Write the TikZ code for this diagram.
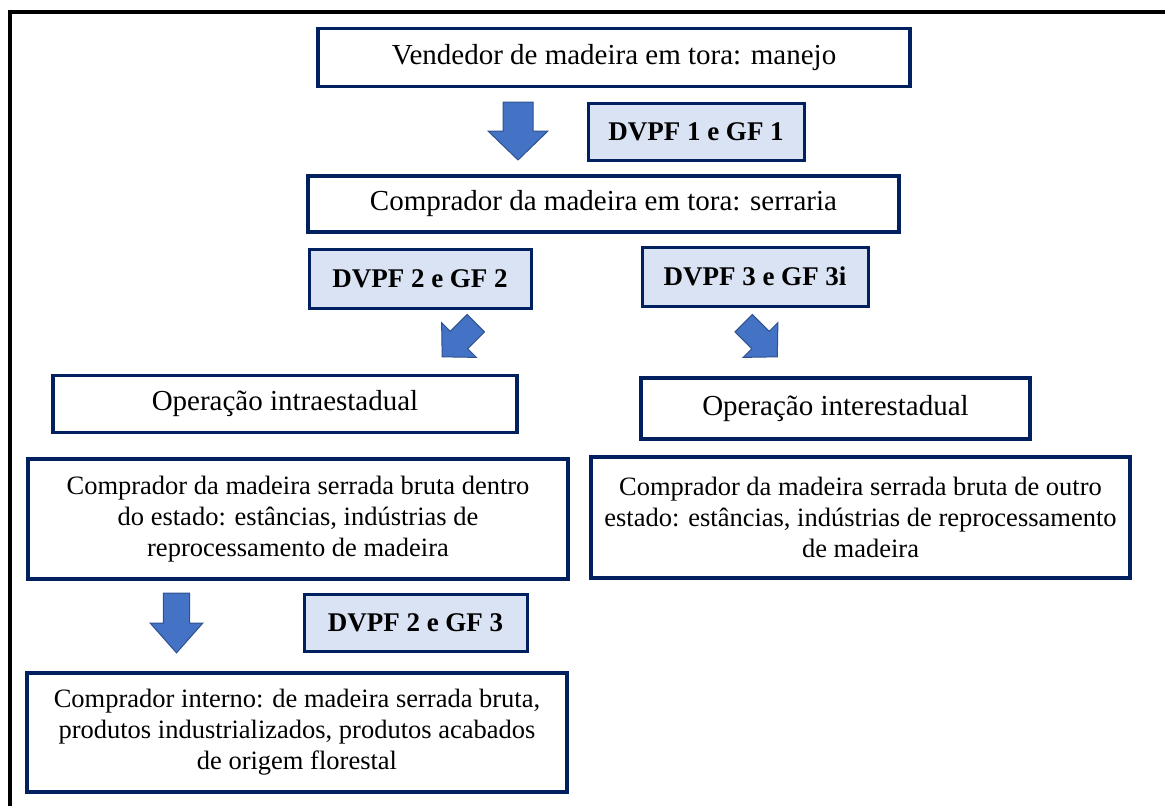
\documentclass[tikz,border=0pt]{standalone}
\usepackage{fontspec}
\setmainfont{LiberationSerif}[Extension=.ttf, UprightFont=*-Regular, BoldFont=*-Bold]
\usetikzlibrary{positioning}
\definecolor{flNavy}{HTML}{002060}
\definecolor{flTag}{HTML}{DAE3F3}
\definecolor{flArrow}{HTML}{4472C4}
\definecolor{flArrowLine}{HTML}{2F528F}
\tikzset{
  flnode/.style={
    draw=flNavy, line width=3.5pt, fill=white, align=center, inner sep=0pt,
    font=\fontsize{29}{31}\selectfont
  },
  flbox/.style={flnode},
  fltext/.style={flnode, font=\fontsize{26.5}{31}\selectfont},
  fltag/.style={flnode, fill=flTag, line width=3pt, font=\fontsize{27}{30}\selectfont\bfseries},
  frame/.style={line width=3.5pt, black},
  blockarrow/.pic={
    \filldraw[fill=flArrow, draw=flArrowLine, line width=1pt]
      (-15,-29) -- (15,-29) -- (15,0) -- (30,0) -- (0,29) -- (-30,0) -- (-15,0) -- cycle;
  }
}
\begin{document}
\begin{tikzpicture}[x=1pt, y=-1pt]
  \useasboundingbox (0,0) rectangle (1165,806);
  \draw[frame] (10,830) -- (10,12) -- (1190,12);

  % main chain
  \node[flbox, minimum width=592pt, minimum height=58pt] (vend) at (614,57.5) {Vendedor de madeira em tora: manejo};
  \node[fltag, minimum width=216pt, minimum height=57pt] (tag1) at (696,131.5) {DVPF 1 e GF 1};
  \node[flbox, minimum width=591pt, minimum height=56pt] (serr) at (603.5,204) {Comprador da madeira em tora: serraria};
  \pic (a1) at (518,131) {blockarrow};

  % two branches
  \node[fltag, minimum width=222pt, minimum height=59pt] (tag2) at (420,278.5) {DVPF 2 e GF 2};
  \node[fltag, minimum width=226pt, minimum height=59pt] (tag3) at (755,276.5) {DVPF 3 e GF 3i};
  \pic[rotate=-45, scale=0.82] (a2) at (459,340) {blockarrow};
  \pic[rotate=45, scale=0.82] (a3) at (760.5,340) {blockarrow};

  \node[flbox, minimum width=464pt, minimum height=57pt] (intra) at (285,404) {Operação intraestadual};
  \node[flbox, minimum width=389pt, minimum height=61pt] (inter) at (835.5,408.5) {Operação interestadual};
  \node[fltext, minimum width=540pt, minimum height=120pt] (buyin) at (298,519)
    {Comprador da madeira serrada bruta dentro\\ do estado: estâncias, indústrias de\\ reprocessamento de madeira};
  \node[fltext, minimum width=539pt, minimum height=121pt] (buyout) at (860.5,517.5)
    {Comprador da madeira serrada bruta de outro\\ estado: estâncias, indústrias de reprocessamento\\ de madeira};

  % last step
  \pic[xscale=0.88, yscale=1.03] (a4) at (176.5,623) {blockarrow};
  \node[fltag, minimum width=223pt, minimum height=57pt] (tag4) at (415.5,622.5) {DVPF 2 e GF 3};
  \node[fltext, minimum width=540pt, minimum height=119pt] (final) at (297,732.5)
    {Comprador interno: de madeira serrada bruta,\\ produtos industrializados, produtos acabados\\ de origem florestal};
\end{tikzpicture}
\end{document}
